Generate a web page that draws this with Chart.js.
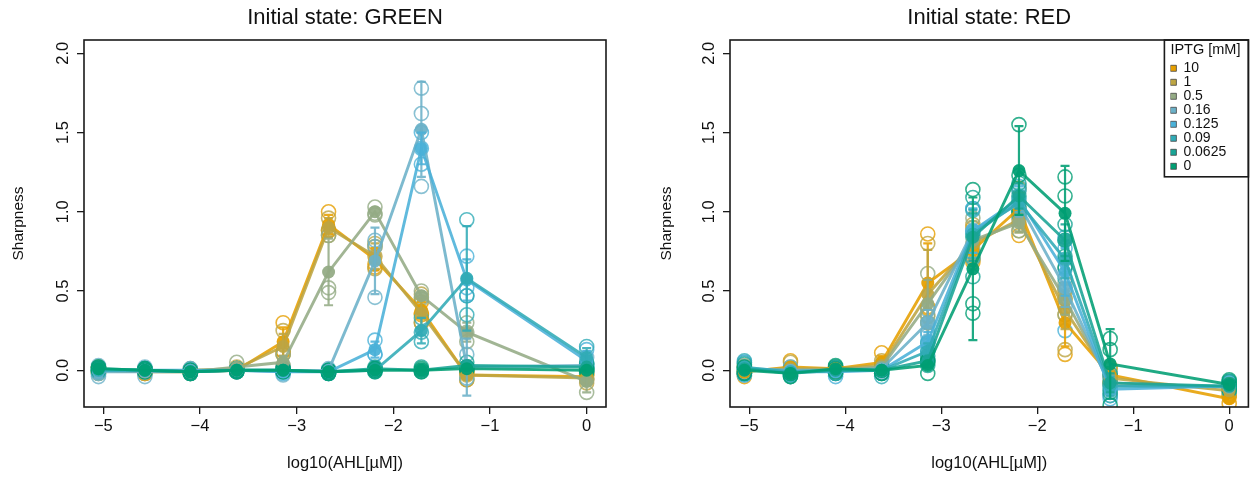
<!DOCTYPE html>
<html>
<head>
<meta charset="utf-8">
<script src="https://cdn.jsdelivr.net/npm/chart.js@4.4.0/dist/chart.umd.min.js"></script>
<style>
html,body{margin:0;padding:0;background:#fff;}
#wrap{position:relative;width:1257px;height:477px;}
canvas{position:absolute;top:0;}
</style>
</head>
<body>
<div id="wrap">
  <canvas id="cGreen" width="628" height="477" style="left:0"></canvas>
  <canvas id="cRed" width="629" height="477" style="left:628px"></canvas>
</div>
<script>
// x = log10(AHL [uM]), one column per AHL dilution
const ahl=[-5.05,-4.57,-4.10,-3.62,-3.14,-2.67,-2.19,-1.71,-1.24,0];
const iptg=["10","1","0.5","0.16","0.125","0.09","0.0625","0"];
const colors=["#E69F00","#BDA543","#94AB85","#6BB1C8","#4AB1D8","#31ABB6","#19A495","#009E73"];
const xTicks=[-5,-4,-3,-2,-1,0];
const yTicks=[0,0.5,1,1.5,2];

// Initial state GREEN: rows follow iptg order
const greenMeans=[
  [0.00,-0.01,-0.01,0.00,0.18,0.92,0.70,0.38,-0.03,-0.04],
  [0.00,-0.01,0.00,0.01,0.15,0.90,0.72,0.36,-0.03,-0.05],
  [0.00,0.00,-0.01,0.02,0.05,0.62,1.00,0.47,0.24,-0.07],
  [-0.01,-0.01,-0.01,0.00,-0.01,0.00,0.69,1.52,0.02,0.03],
  [0.00,0.00,0.00,0.00,-0.01,-0.01,0.13,1.40,0.57,0.06],
  [0.00,0.00,-0.01,0.00,0.00,-0.01,0.00,0.25,0.58,0.08],
  [0.01,0.00,-0.01,0.00,0.00,-0.01,0.01,0.00,0.03,0.02],
  [0.01,0.00,-0.01,0.00,0.00,-0.01,0.00,0.00,0.01,0.00]
];
const greenSd=[
  [0.02,0.01,0.01,0.01,0.09,0.06,0.07,0.05,0.03,0.02],
  [0.02,0.01,0.01,0.01,0.08,0.06,0.08,0.09,0.03,0.03],
  [0.02,0.01,0.01,0.03,0.04,0.21,0.03,0.03,0.06,0.07],
  [0.04,0.03,0.01,0.01,0.02,0.01,0.21,0.30,0.18,0.05],
  [0.01,0.01,0.01,0.01,0.01,0.01,0.05,0.10,0.13,0.06],
  [0.01,0.01,0.01,0.01,0.01,0.01,0.01,0.08,0.33,0.06],
  [0.01,0.01,0.01,0.01,0.01,0.01,0.01,0.02,0.02,0.02],
  [0.01,0.01,0.01,0.01,0.01,0.01,0.01,0.01,0.01,0.01]
];
const greenRepA=[
  [0.02,0.01,0.00,0.01,0.30,1.00,0.78,0.43,-0.01,-0.03],
  [0.02,0.00,0.01,0.02,0.25,0.96,0.80,0.48,0.00,-0.02],
  [0.02,0.01,0.00,0.05,0.10,0.85,1.03,0.50,0.30,-0.01],
  [0.03,0.02,0.00,0.01,0.01,0.01,0.82,1.78,0.10,0.08],
  [0.01,0.01,0.01,0.01,0.00,0.00,0.19,1.50,0.72,0.13],
  [0.01,0.01,0.00,0.01,0.01,0.00,0.01,0.18,0.95,0.15],
  [0.02,0.01,0.00,0.01,0.01,0.00,0.02,0.02,0.05,0.04],
  [0.02,0.01,0.00,0.01,0.01,0.00,0.01,0.01,0.02,0.01]
];
const greenRepB=[
  [-0.01,-0.02,-0.01,0.00,0.12,0.88,0.65,0.35,-0.06,-0.06],
  [-0.02,-0.02,-0.01,0.01,0.10,0.85,0.64,0.30,-0.06,-0.08],
  [-0.02,-0.01,-0.02,0.00,0.02,0.52,0.99,0.46,0.24,-0.14],
  [-0.04,-0.04,-0.02,-0.01,-0.03,-0.01,0.78,1.62,-0.05,0.02],
  [-0.01,-0.01,-0.01,-0.01,-0.02,-0.02,0.10,1.40,0.47,0.02],
  [-0.01,-0.01,-0.02,-0.01,-0.01,-0.02,-0.01,0.33,0.47,0.04],
  [0.00,-0.01,-0.02,-0.01,-0.01,-0.02,0.00,-0.01,0.02,0.01],
  [0.00,-0.01,-0.02,-0.01,-0.01,-0.02,-0.01,-0.01,0.00,-0.01]
];
const greenRepC=[
  [-0.01,-0.02,-0.02,-0.01,0.12,0.88,0.67,0.36,-0.02,-0.03],
  [0.00,-0.01,0.00,0.00,0.10,0.89,0.72,0.30,-0.03,-0.05],
  [0.00,0.00,-0.01,0.01,0.03,0.49,0.98,0.45,0.18,-0.06],
  [-0.02,-0.01,-0.01,0.00,-0.01,0.00,0.46,1.16,0.01,-0.01],
  [0.00,0.00,0.00,0.00,-0.01,-0.01,0.10,1.30,0.52,0.03],
  [0.00,0.00,-0.01,0.00,0.00,-0.01,0.00,0.24,0.35,0.05],
  [0.01,0.00,-0.01,0.00,0.00,-0.01,0.01,0.00,0.02,0.01],
  [0.01,0.00,-0.01,0.00,0.00,-0.01,0.00,0.00,0.01,0.00]
];

// Initial state RED
const redMeans=[
  [-0.01,0.02,0.01,0.05,0.55,0.76,1.02,0.30,-0.03,-0.18],
  [0.00,0.01,0.01,0.03,0.48,0.80,0.95,0.38,-0.05,-0.13],
  [0.00,0.00,0.00,0.02,0.42,0.82,0.93,0.45,-0.08,-0.11],
  [0.01,0.00,0.00,0.01,0.30,0.88,1.05,0.52,-0.10,-0.10],
  [0.01,-0.01,-0.01,0.00,0.18,0.88,1.08,0.62,-0.12,-0.10],
  [0.02,-0.01,0.00,0.00,0.12,0.86,1.06,0.70,-0.10,-0.10],
  [0.01,-0.02,0.00,0.00,0.06,0.84,1.10,0.82,-0.08,-0.10],
  [0.00,-0.02,0.01,0.00,0.03,0.64,1.26,0.99,0.04,-0.09]
];
const redSd=[
  [0.02,0.03,0.01,0.04,0.25,0.10,0.10,0.15,0.04,0.02],
  [0.02,0.03,0.01,0.03,0.28,0.10,0.08,0.12,0.05,0.02],
  [0.02,0.02,0.01,0.02,0.15,0.12,0.06,0.10,0.05,0.02],
  [0.03,0.02,0.02,0.02,0.08,0.14,0.08,0.12,0.06,0.02],
  [0.03,0.02,0.02,0.02,0.06,0.14,0.08,0.15,0.06,0.02],
  [0.03,0.02,0.02,0.02,0.05,0.15,0.08,0.12,0.06,0.03],
  [0.02,0.02,0.02,0.02,0.03,0.15,0.08,0.10,0.06,0.03],
  [0.02,0.02,0.02,0.02,0.03,0.45,0.28,0.30,0.22,0.03]
];
const redRepA=[
  [0.02,0.06,0.02,0.11,0.86,0.90,1.15,0.45,0.02,-0.16],
  [0.02,0.05,0.02,0.06,0.80,0.92,1.02,0.50,0.01,-0.11],
  [0.03,0.02,0.01,0.04,0.61,0.96,0.99,0.55,-0.03,-0.09],
  [0.05,0.02,0.02,0.03,0.38,1.02,1.13,0.64,-0.04,-0.08],
  [0.05,0.01,0.01,0.02,0.24,1.02,1.16,0.77,-0.06,-0.08],
  [0.06,0.01,0.02,0.02,0.17,1.01,1.14,0.82,-0.04,-0.07],
  [0.04,0.00,0.02,0.02,0.09,1.09,1.18,0.92,-0.02,-0.07],
  [0.02,0.00,0.03,0.02,0.06,1.14,1.55,1.22,0.20,-0.06]
];
const redRepB=[
  [-0.04,0.00,0.00,0.02,0.40,0.70,0.85,0.10,-0.07,-0.21],
  [-0.02,-0.01,0.00,0.01,0.30,0.72,0.88,0.13,-0.09,-0.15],
  [-0.02,-0.02,-0.01,0.00,0.30,0.70,0.88,0.35,-0.12,-0.13],
  [-0.03,-0.02,-0.02,-0.01,0.22,0.74,0.97,0.40,-0.16,-0.12],
  [-0.03,-0.03,-0.04,-0.02,0.12,0.74,1.00,0.25,-0.18,-0.12],
  [-0.02,-0.03,-0.02,-0.04,0.07,0.71,0.98,0.58,-0.16,-0.13],
  [-0.02,-0.04,-0.02,-0.02,0.03,0.59,1.02,0.72,-0.14,-0.13],
  [-0.02,-0.04,-0.01,-0.02,-0.02,0.42,1.00,1.10,0.13,-0.12]
];
const redRepC=[
  [-0.01,0.00,0.01,0.02,0.39,0.68,1.06,0.35,-0.04,-0.17],
  [0.00,-0.01,0.01,0.02,0.34,0.76,0.95,0.51,-0.07,-0.13],
  [-0.01,0.00,0.00,0.02,0.35,0.80,0.92,0.45,-0.09,-0.11],
  [0.01,0.00,0.00,0.01,0.30,0.88,1.05,0.52,-0.10,-0.10],
  [0.01,-0.01,0.00,0.00,0.18,0.88,1.08,0.84,-0.12,-0.10],
  [0.02,-0.01,0.00,0.02,0.12,0.86,1.06,0.70,-0.10,-0.10],
  [0.01,-0.02,0.00,0.00,0.06,0.84,1.10,0.82,-0.08,-0.10],
  [0.00,-0.02,0.01,0.00,0.05,0.36,1.23,0.65,-0.22,-0.09]
];

const FONT='"Liberation Sans", Arial, Helvetica, sans-serif';
Chart.defaults.font.family=FONT;
Chart.defaults.color='#111';

function rgba(hex,a){
  const n=parseInt(hex.slice(1),16);
  return `rgba(${n>>16},${(n>>8)&255},${n&255},${a})`;
}

function buildSets(means,sds,reps){
  const sets=[];
  iptg.forEach((lab,i)=>{
    sets.push({label:lab,data:ahl.map((x,j)=>({x,y:means[i][j]})),sd:sds[i],showLine:true,
      borderColor:rgba(colors[i],0.88),backgroundColor:colors[i],borderWidth:2.9,tension:0,
      pointRadius:6.5,pointBorderWidth:0,pointBackgroundColor:rgba(colors[i],0.94),order:20-i});
  });
  iptg.forEach((lab,i)=>{
    const pts=[];
    reps.forEach(r=>ahl.forEach((x,j)=>pts.push({x,y:r[i][j]})));
    sets.push({label:lab,isRep:true,data:pts,showLine:false,pointRadius:7,pointBorderWidth:1.6,
      pointBackgroundColor:'rgba(0,0,0,0)',pointBorderColor:rgba(colors[i],0.8),order:40-i});
  });
  return sets;
}

// mean +/- sd bars, drawn right after each line dataset
const errorBars={id:'errorBars',afterDatasetDraw(chart,args){
  const ds=chart.data.datasets[args.index];
  if(!ds.sd) return;
  const xs=chart.scales.x, ys=chart.scales.y, ctx=chart.ctx, a=chart.chartArea;
  ctx.save();
  ctx.beginPath(); ctx.rect(a.left,a.top,a.right-a.left,a.bottom-a.top); ctx.clip();
  ctx.strokeStyle=ds.borderColor; ctx.lineWidth=2.2;
  ds.data.forEach((p,j)=>{
    const s=ds.sd[j]; if(s<0.04) return;
    const px=xs.getPixelForValue(p.x), y1=ys.getPixelForValue(p.y-s), y2=ys.getPixelForValue(p.y+s);
    ctx.beginPath();
    ctx.moveTo(px,y1); ctx.lineTo(px,y2);
    ctx.moveTo(px-4.5,y1); ctx.lineTo(px+4.5,y1);
    ctx.moveTo(px-4.5,y2); ctx.lineTo(px+4.5,y2);
    ctx.stroke();
  });
  ctx.restore();
}};

// box around plot + legend placement in the top right corner
const frame={id:'frame',
  afterLayout(chart){
    const lg=chart.legend;
    if(!lg || !lg.options.display) return;
    const a=chart.chartArea;
    lg.left=a.right-78; lg.right=a.right; lg.width=lg.right-lg.left;
    lg.top=a.top; lg.bottom=lg.top+lg.height;
  },
  afterDraw(chart){
    const a=chart.chartArea, ctx=chart.ctx;
    ctx.save();
    ctx.strokeStyle='#1a1a1a'; ctx.lineWidth=1.6;
    ctx.strokeRect(a.left,a.top,a.right-a.left,a.bottom-a.top);
    const lg=chart.legend;
    if(lg && lg.options.display && lg.legendHitBoxes.length){
      const hb=lg.legendHitBoxes[lg.legendHitBoxes.length-1];
      ctx.strokeRect(lg.left-6,a.top,a.right-lg.left+6,hb.top+hb.height+3.5-a.top);
    }
    ctx.restore();
  }
};

function makeChart(id,title,means,sds,reps,yAxisWidth,rightPad,titlePad,showLegend){
  return new Chart(document.getElementById(id),{
    type:'scatter',
    data:{datasets:buildSets(means,sds,reps)},
    options:{
      responsive:false,animation:false,events:[],
      layout:{padding:{top:0,right:rightPad,bottom:0,left:0}},
      scales:{
        x:{type:'linear',min:-5.2,max:0.2,
          afterBuildTicks:s=>{s.ticks=xTicks.map(v=>({value:v}));},
          afterFit:s=>{s.height=70;},
          grid:{drawOnChartArea:false,drawTicks:true,tickLength:7,color:'#1a1a1a',lineWidth:1.3},
          border:{display:false},
          ticks:{color:'#111',font:{size:16.5},padding:3,maxRotation:0,autoSkip:false,
            callback:v=>v<0?'\u2212'+Math.abs(v):String(v)},
          title:{display:true,text:'log10(AHL[\u00b5M])',color:'#111',font:{size:16.5},padding:{top:0,bottom:4}}
        },
        y:{type:'linear',min:-0.232,max:2.084,
          afterBuildTicks:s=>{s.ticks=yTicks.map(v=>({value:v}));},
          afterFit:s=>{s.width=yAxisWidth;},
          grid:{drawOnChartArea:false,drawTicks:true,tickLength:7,color:'#1a1a1a',lineWidth:1.3},
          border:{display:false},
          ticks:{color:'#111',font:{size:16.5},minRotation:90,maxRotation:90,crossAlign:'center',padding:2,
            autoSkip:false,callback:v=>v.toFixed(1)},
          title:{display:true,text:'Sharpness',color:'#111',font:{size:15.5},padding:{top:titlePad,bottom:0}}
        }
      },
      plugins:{
        title:{display:true,text:title,fullSize:false,color:'#111',font:{size:22,weight:'normal'},padding:{top:4.8,bottom:8.8}},
        tooltip:{enabled:false},
        legend:{display:showLegend,position:'chartArea',align:'start',
          title:{display:true,text:'IPTG [mM]',position:'start',color:'#111',font:{size:14.5},padding:{top:2.75,bottom:1.15}},
          labels:{boxWidth:6,boxHeight:6,padding:0,color:'#111',font:{size:14},
            generateLabels:chart=>chart.data.datasets.map((ds,i)=>({text:ds.label,fillStyle:ds.backgroundColor,
              strokeStyle:'#444',lineWidth:0.8,hidden:false,datasetIndex:i,rep:ds.isRep})).filter(l=>!l.rep)}
        }
      }
    },
    plugins:[errorBars,frame]
  });
}

makeChart('cGreen','Initial state: GREEN',greenMeans,greenSd,[greenRepA,greenRepB,greenRepC],84,22,9.5,false);
makeChart('cRed','Initial state: RED',redMeans,redSd,[redRepA,redRepB,redRepC],102,6,29,true);
</script>
</body>
</html>
